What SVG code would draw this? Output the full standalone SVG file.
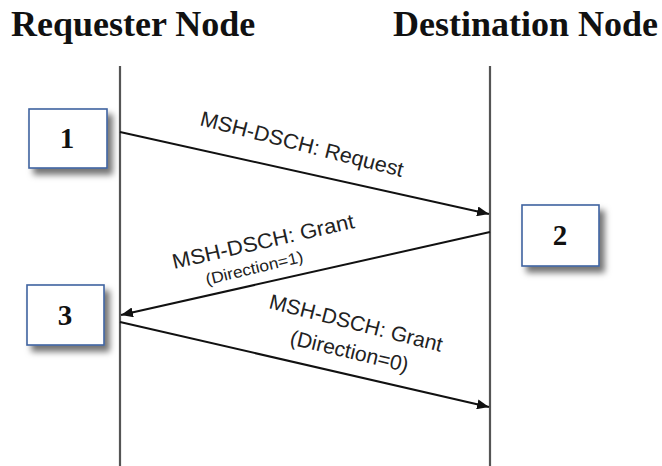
<svg xmlns="http://www.w3.org/2000/svg" width="662" height="466" viewBox="0 0 662 466">
<defs>
<filter id="sh" x="-20%" y="-20%" width="150%" height="160%">
<feDropShadow dx="5" dy="6" stdDeviation="3" flood-color="#000" flood-opacity="0.55"/>
</filter>
<marker id="ah" viewBox="0 0 12 10" refX="12" refY="5" markerWidth="12" markerHeight="10" markerUnits="userSpaceOnUse" orient="auto">
<path d="M0,0 L12,5 L0,10 Z" fill="#111"/>
</marker>
<style>
.title{font-family:"Liberation Serif","Times New Roman",serif;font-weight:bold;font-size:36px;fill:#111}
.num{font-family:"Liberation Serif","Times New Roman",serif;font-weight:bold;font-size:29px;fill:#111;text-anchor:middle}
.box{fill:#fff;stroke:#3f63a0;stroke-width:1.6}
.life{stroke:#555;stroke-width:2.2;fill:none}
.msg{stroke:#111;stroke-width:2;fill:none;marker-end:url(#ah)}
.lbl{font-family:"Liberation Sans",Arial,sans-serif;font-size:21px;fill:#222}
.sm{font-size:16px}
</style>
</defs>
<rect width="662" height="466" fill="#fff"/>
<g id="requester">
<text class="title" x="11" y="36">Requester Node</text>
<line class="life" x1="120" y1="66" x2="120" y2="466"/>
</g>
<g id="destination">
<text class="title" x="393" y="36">Destination Node</text>
<line class="life" x1="490" y1="66" x2="490" y2="466"/>
</g>
<g id="step1">
<rect class="box" x="29" y="109" width="78" height="59" filter="url(#sh)"/>
<text class="num" x="67" y="148">1</text>
</g>
<g id="step2">
<rect class="box" x="522" y="205" width="77" height="61" filter="url(#sh)"/>
<text class="num" x="560" y="245">2</text>
</g>
<g id="step3">
<rect class="box" x="27" y="285" width="77" height="60" filter="url(#sh)"/>
<text class="num" x="65" y="325">3</text>
</g>
<g id="connectors">
<line class="msg" x1="120" y1="132" x2="489" y2="214"/>
<line class="msg" x1="490" y1="232" x2="121" y2="315"/>
<line class="msg" x1="120" y1="322" x2="489" y2="407"/>
<text class="lbl" transform="translate(199,125) rotate(14.4)" textLength="209" lengthAdjust="spacingAndGlyphs">MSH-DSCH: Request</text>
<text class="lbl" transform="translate(174,269) rotate(-12.8)" textLength="186" lengthAdjust="spacingAndGlyphs">MSH-DSCH: Grant</text>
<text class="lbl sm" transform="translate(207,285) rotate(-13.5)" textLength="100" lengthAdjust="spacingAndGlyphs">(Direction=1)</text>
<text class="lbl" transform="translate(268,308) rotate(14.3)" textLength="178" lengthAdjust="spacingAndGlyphs">MSH-DSCH: Grant</text>
<text class="lbl" transform="translate(289,344) rotate(13.5)" textLength="121" lengthAdjust="spacingAndGlyphs">(Direction=0)</text>
</g>
</svg>
